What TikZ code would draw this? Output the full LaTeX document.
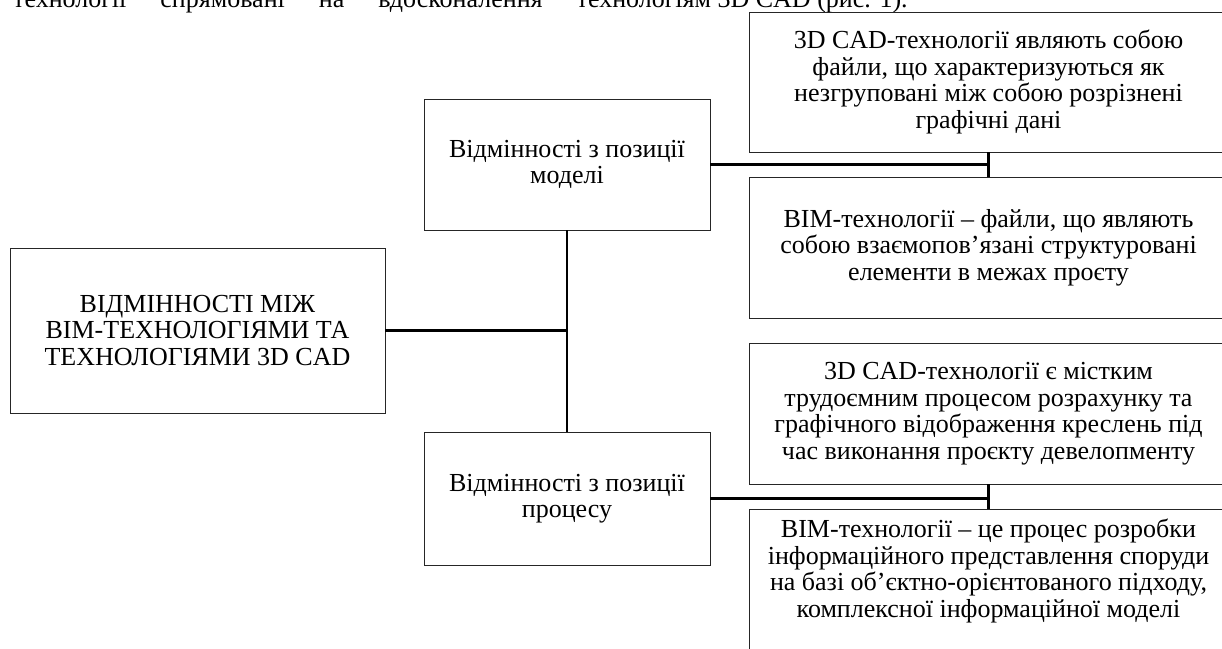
\documentclass[tikz,border=0pt]{standalone}
\usepackage{fontspec}
\setmainfont{Liberation Serif}
\begin{document}
\begin{tikzpicture}[x=1pt,y=-1pt,
  box/.style={draw=black!85, line width=0.9pt, align=center, inner sep=0pt,
    font=\fontsize{26}{26.5}\selectfont},
  boxtext/.style={align=center, inner sep=0pt, font=\fontsize{26}{26.5}\selectfont},
  conn/.style={line width=2.6pt, black}]
\useasboundingbox (0,0) rectangle (1222,648);
\clip (0,0) rectangle (1222,648);
\node[anchor=base west, inner sep=0pt, font=\fontsize{26}{26}\selectfont] (toptext) at (13,7)
  {технології\hspace{34pt}спрямовані\hspace{34pt}на\hspace{34pt}вдосконалення\hspace{34pt}технологіям 3D CAD (рис. 1).};
\node[box, minimum width=375pt, minimum height=165pt] (main) at (197.5,330.5)
  {ВІДМІННОСТІ МІЖ\\ВІМ-ТЕХНОЛОГІЯМИ ТА\\ТЕХНОЛОГІЯМИ 3D CAD};
\node[box, minimum width=286pt, minimum height=131pt] (model) at (567,164.5)
  {Відмінності з позиції\\моделі};
\node[box, minimum width=286pt, minimum height=133pt] (process) at (567,498.5)
  {Відмінності з позиції\\процесу};
\node[box, minimum width=479pt, minimum height=140pt] (A) at (988.5,82)
  {3D CAD-технології являють собою\\файли, що характеризуються як\\незгруповані між собою розрізнені\\графічні дані};
\node[box, minimum width=479pt, minimum height=141pt] (B) at (988.5,247.5)
  {BIM-технології – файли, що являють\\собою взаємопов’язані структуровані\\елементи в межах проєту};
\node[box, minimum width=479pt, minimum height=141pt] (C) at (988.5,413.5)
  {3D CAD-технології є містким\\трудоємним процесом розрахунку та\\графічного відображення креслень під\\час виконання проєкту девелопменту};
\node[box, minimum width=479pt, minimum height=145pt] (D) at (988.5,581.5) {};
\node[boxtext] (Dtext) at (988.5,571)
  {BIM-технології – це процес розробки\\інформаційного представлення споруди\\на базі об’єктно-орієнтованого підходу,\\комплексної інформаційної моделі};
\draw[conn] (main.east) -- (main.east -| model.south);
\draw[conn] (model.south) -- (process.north);
\draw[conn] (model.east) -- (model.east -| A.south);
\draw[conn] (A.south) -- (B.north);
\draw[conn] (process.east) -- (process.east -| C.south);
\draw[conn] (C.south) -- (D.north);
\end{tikzpicture}
\end{document}
